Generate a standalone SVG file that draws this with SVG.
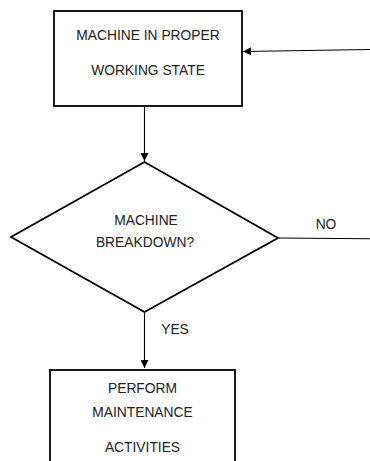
<svg xmlns="http://www.w3.org/2000/svg" width="370" height="461" viewBox="0 0 370 461">
  <style>
    .shape { fill: #ffffff; stroke: #000000; stroke-width: 1.8; }
    .link { fill: none; stroke: #000000; stroke-width: 1.1; }
    .label { font-family: "Liberation Sans", Arial, sans-serif; font-size: 13.8px; fill: #222222; text-anchor: middle; }
  </style>
  <defs>
    <marker id="arrow" viewBox="0 0 10 10" refX="10" refY="5" markerWidth="8" markerHeight="8" markerUnits="userSpaceOnUse" orient="auto">
      <path d="M0,0 L10,5 L0,10 Z" fill="#000000"/>
    </marker>
  </defs>

  <!-- connectors -->
  <g id="connectors">
    <line class="link" x1="370" y1="49.5" x2="243" y2="51.5" marker-end="url(#arrow)"/>
    <line class="link" x1="144.5" y1="107" x2="144.5" y2="161" marker-end="url(#arrow)"/>
    <line class="link" x1="278" y1="238" x2="370" y2="238.8"/>
    <line class="link" x1="144.5" y1="313" x2="144.5" y2="368" marker-end="url(#arrow)"/>
    <text class="label" x="326" y="229">NO</text>
    <text class="label" x="175" y="334">YES</text>
  </g>

  <!-- working state box -->
  <g id="node-working">
    <rect class="shape" x="54" y="11" width="188" height="95"/>
    <text class="label" x="148" y="39.5">MACHINE IN PROPER</text>
    <text class="label" x="148" y="75">WORKING STATE</text>
  </g>

  <!-- breakdown decision -->
  <g id="node-breakdown">
    <polygon class="shape" points="144.5,162 278,238 144.5,312 11,237"/>
    <text class="label" x="146" y="225">MACHINE</text>
    <text class="label" x="145" y="247">BREAKDOWN?</text>
  </g>

  <!-- maintenance box -->
  <g id="node-maintenance">
    <rect class="shape" x="50" y="370" width="185" height="100"/>
    <text class="label" x="142.5" y="393">PERFORM</text>
    <text class="label" x="142.5" y="417">MAINTENANCE</text>
    <text class="label" x="142.5" y="452">ACTIVITIES</text>
  </g>
</svg>
